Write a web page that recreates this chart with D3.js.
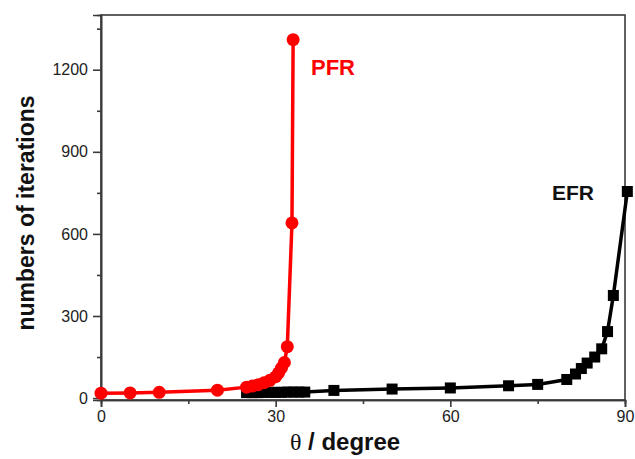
<!DOCTYPE html>
<html>
<head>
<meta charset="utf-8">
<script src="https://cdn.jsdelivr.net/npm/d3@7"></script>
<style>
  body { margin: 0; background: #fff; }
  text { font-family: "Liberation Sans", Arial, sans-serif; }
</style>
</head>
<body>
<svg width="635" height="459"></svg>
<script>
// PFR (red circles)
let pfrTheta = [0, 5, 10, 20, 25, 26, 27, 28, 29, 30, 30.5, 31, 31.5, 32, 32.8, 33];
let pfrIter  = [18, 19, 21, 29, 40, 44, 49, 56, 65, 78, 92, 110, 130, 188, 640, 1310];

// EFR (black squares)
let efrTheta = [25, 26, 27, 28, 29, 30, 31, 32, 33, 34, 35, 40, 50, 60, 70, 75, 80, 81.5, 82.5, 83.5, 84.8, 86, 87, 88, 90.4];
let efrIter  = [20, 20, 20, 21, 21, 21, 21, 22, 22, 22, 22, 28, 33, 37, 45, 50, 68, 88, 108, 128, 150, 180, 243, 375, 755];

let xTicks = [0, 30, 60, 90];
let xMinor = [15, 45, 75];
let yTicks = [0, 300, 600, 900, 1200];
let yMinor = [150, 450, 750, 1050, 1350];

let svg = d3.select("svg");

var plot = {l: 101, r: 625, t: 15, b: 400};

var x = d3.scaleLinear().domain([0, 90]).range([plot.l, plot.r]);
var y = d3.scaleLinear().domain([-7, 1400]).range([plot.b, plot.t]);

var axisColor = "#3a3a3a";

// frame
svg.append("rect")
  .attr("x", plot.l).attr("y", plot.t)
  .attr("width", plot.r - plot.l).attr("height", plot.b - plot.t)
  .attr("fill", "none").attr("stroke", axisColor).attr("stroke-width", 1.6);

// bottom axis
let xAxisG = svg.append("g")
  .attr("transform", "translate(0," + plot.b + ")")
  .call(d3.axisBottom(x).tickValues(xTicks).tickSize(7).tickPadding(4).tickFormat(d3.format("d")));
xAxisG.append("g")
  .call(d3.axisBottom(x).tickValues(xMinor).tickSize(4).tickFormat(""));

// left axis
let yAxisG = svg.append("g")
  .attr("transform", "translate(" + plot.l + ",0)")
  .call(d3.axisLeft(y).tickValues(yTicks).tickSize(8).tickPadding(5).tickFormat(d3.format("d")));
yAxisG.append("g")
  .call(d3.axisLeft(y).tickValues(yMinor).tickSize(4).tickFormat(""));

svg.selectAll(".domain").attr("stroke", axisColor).attr("stroke-width", 1.6);
svg.selectAll(".tick line").attr("stroke", axisColor).attr("stroke-width", 1.6);
svg.selectAll(".tick text")
  .attr("fill", "#222")
  .style("font-size", "16px")
  .style("font-family", "'Liberation Sans', Arial, sans-serif");

// series
let efr = efrTheta.map((t, i) => ({t: t, v: efrIter[i]}));
let pfr = pfrTheta.map((t, i) => ({t: t, v: pfrIter[i]}));

let line = d3.line()
  .x(d => x(d.t))
  .y(d => y(d.v));

svg.append("path")
  .datum(efr)
  .attr("d", line)
  .attr("fill", "none")
  .attr("stroke", "#000")
  .attr("stroke-width", 3.5);

svg.selectAll("rect.efr")
  .data(efr)
  .join("rect")
    .classed("efr", true)
    .attr("x", d => x(d.t) - 5.5)
    .attr("y", d => y(d.v) - 5.5)
    .attr("width", 11)
    .attr("height", 11)
    .attr("fill", "#000");

svg.append("path")
  .datum(pfr)
  .attr("d", line)
  .attr("fill", "none")
  .attr("stroke", "#ff0000")
  .attr("stroke-width", 3.5);

svg.selectAll("circle.pfr")
  .data(pfr)
  .join("circle")
    .classed("pfr", true)
    .attr("cx", d => x(d.t))
    .attr("cy", d => y(d.v))
    .attr("r", 6.5)
    .attr("fill", "#ff0000");

// series labels
svg.append("text")
  .attr("x", 311).attr("y", 75)
  .attr("fill", "#ff0000")
  .style("font-size", "22px").style("font-weight", "bold")
  .text("PFR");

svg.append("text")
  .attr("x", 552).attr("y", 200)
  .attr("fill", "#111")
  .style("font-size", "21px").style("font-weight", "bold")
  .text("EFR");

// axis titles
svg.append("text")
  .attr("transform", "translate(34,213) rotate(-90)")
  .attr("text-anchor", "middle")
  .attr("fill", "#111")
  .style("font-size", "23px").style("font-weight", "bold")
  .text("numbers of iterations");

let xTitle = svg.append("text")
  .attr("x", 345).attr("y", 450)
  .attr("text-anchor", "middle")
  .attr("fill", "#111")
  .style("font-size", "24px").style("font-weight", "bold");
xTitle.append("tspan")
  .style("font-family", "'Liberation Serif', 'Times New Roman', serif")
  .style("font-weight", "normal")
  .text("θ");
xTitle.append("tspan").text(" / degree");
</script>
</body>
</html>
